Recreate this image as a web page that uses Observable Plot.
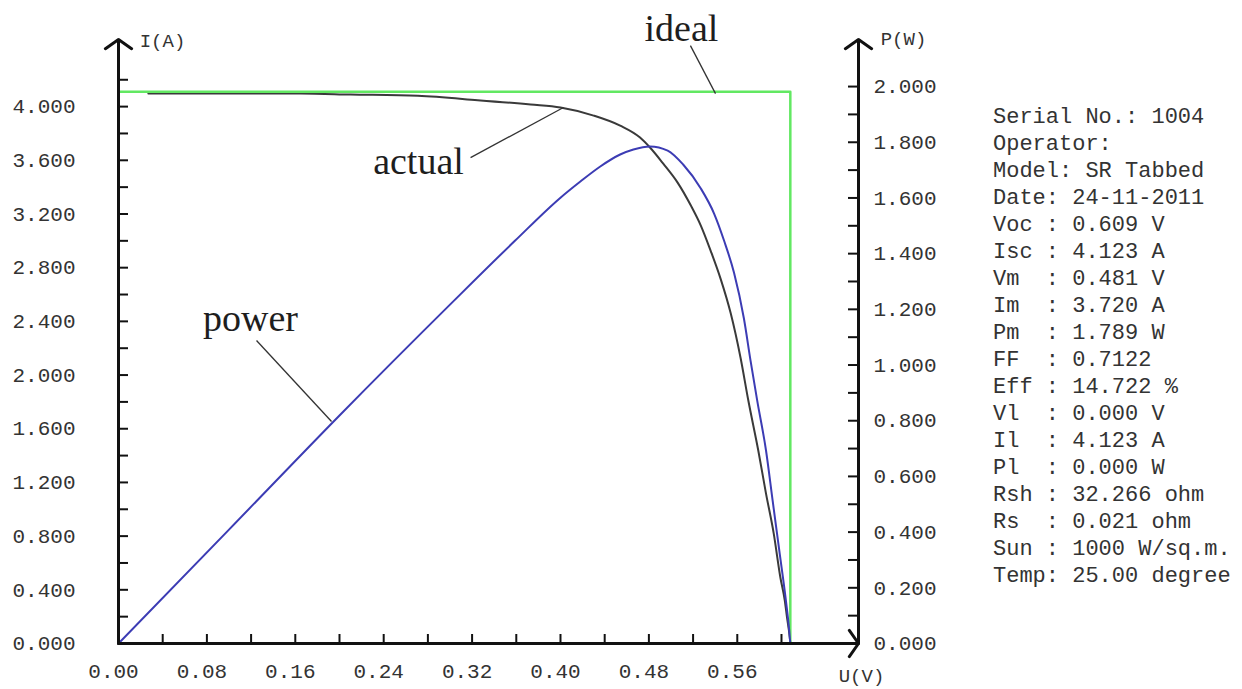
<!DOCTYPE html>
<html>
<head>
<meta charset="utf-8">
<script src="https://cdn.jsdelivr.net/npm/d3@7"></script>
<script src="https://cdn.jsdelivr.net/npm/@observablehq/plot@0.6"></script>
<style>
  html, body { margin: 0; padding: 0; background: #fff; }
  #wrap { position: relative; width: 1242px; height: 689px; overflow: hidden; }
  #panel { position: absolute; left: 993px; top: 104px; font-family: "Liberation Mono", "DejaVu Sans Mono", monospace;
           font-size: 22px; line-height: 27px; color: #333; white-space: pre; }
</style>
</head>
<body>
<div id="wrap"><div id="chart"></div><div id="panel"></div></div>
<script>
// ---- data ----
// actual I-V curve (U in V, I in A)
const uActual = [0.027, 0.165, 0.210, 0.271, 0.325, 0.373, 0.400, 0.430, 0.454, 0.472, 0.481, 0.493, 0.506, 0.518, 0.527, 0.536, 0.545, 0.554, 0.563, 0.570, 0.579, 0.586, 0.593, 0.599, 0.603, 0.605, 0.6075, 0.608];
const iActual = [4.097, 4.097, 4.090, 4.080, 4.048, 4.015, 3.993, 3.933, 3.858, 3.769, 3.695, 3.575, 3.434, 3.263, 3.114, 2.924, 2.715, 2.462, 2.127, 1.810, 1.438, 1.117, 0.819, 0.492, 0.320, 0.194, 0.045, 0.0];
// power curve (U in V, P in W)
const uPower = [0, 0.100, 0.200, 0.300, 0.359, 0.400, 0.418, 0.436, 0.454, 0.466, 0.481, 0.497, 0.511, 0.527, 0.539, 0.548, 0.557, 0.566, 0.572, 0.578, 0.586, 0.592, 0.598, 0.604, 0.607, 0.608];
const pPower = [0, 0.409, 0.819, 1.217, 1.447, 1.601, 1.659, 1.713, 1.756, 1.774, 1.785, 1.770, 1.720, 1.634, 1.544, 1.447, 1.332, 1.167, 1.016, 0.873, 0.693, 0.513, 0.334, 0.154, 0.047, 0];
// ideal rectangle (U, I)
const uIdeal = [0, 0.608, 0.608];
const iIdeal = [4.11, 4.11, 0];

// axes ticks
const uLabelTicks = [0, 0.08, 0.16, 0.24, 0.32, 0.40, 0.48, 0.56];
const uMinorTicks = [0.04, 0.08, 0.12, 0.16, 0.20, 0.24, 0.28, 0.32, 0.36, 0.40, 0.44, 0.48, 0.52, 0.56, 0.60];
const iLabelTicks = [0, 0.4, 0.8, 1.2, 1.6, 2.0, 2.4, 2.8, 3.2, 3.6, 4.0];
const iMinorTicks = [0.2, 0.4, 0.6, 0.8, 1.0, 1.2, 1.4, 1.6, 1.8, 2.0, 2.2, 2.4, 2.6, 2.8, 3.0, 3.2, 3.4, 3.6, 3.8, 4.0, 4.2];
const pLabelTicks = [0, 0.2, 0.4, 0.6, 0.8, 1.0, 1.2, 1.4, 1.6, 1.8, 2.0];
const pMinorTicks = [0.1, 0.2, 0.3, 0.4, 0.5, 0.6, 0.7, 0.8, 0.9, 1.0, 1.1, 1.2, 1.3, 1.4, 1.5, 1.6, 1.7, 1.8, 1.9, 2.0];

// annotations (label position and pointer, in U / I units)
const annText = ["ideal", "actual", "power"];
const annU = [0.5095, 0.2715, 0.1195];
const annI = [4.581, 3.590, 2.421];
const annFromU = [0.5176, 0.3186, 0.1249];
const annFromI = [4.454, 3.620, 2.257];
const annToU = [0.5403, 0.4027, 0.1928];
const annToI = [4.097, 3.993, 1.654];

// info panel
const infoLines = [
  "Serial No.: 1004", "Operator:", "Model: SR Tabbed", "Date: 24-11-2011",
  "Voc : 0.609 V", "Isc : 4.123 A", "Vm  : 0.481 V", "Im  : 3.720 A", "Pm  : 1.789 W",
  "FF  : 0.7122", "Eff : 14.722 %", "Vl  : 0.000 V", "Il  : 4.123 A", "Pl  : 0.000 W",
  "Rsh : 32.266 ohm", "Rs  : 0.021 ohm", "Sun : 1000 W/sq.m.", "Temp: 25.00 degree"
];

// ---- scales ----
const xMax = 0.6697;   // U domain top
const yMax = 4.5;      // I domain top
const pMax = 2.169;    // P domain top (right axis)
const pToI = yMax / pMax;

const actual = uActual.map((u, k) => ({u, i: iActual[k]}));
const power = uPower.map((u, k) => ({u, i: pPower[k] * pToI}));
const ideal = uIdeal.map((u, k) => ({u, i: iIdeal[k]}));
const ann = annText.map((t, k) => ({t, u: annU[k], i: annI[k], u1: annFromU[k], i1: annFromI[k], u2: annToU[k], i2: annToI[k]}));
const axesLines = [
  {x1: 0, y1: 0, x2: 0, y2: yMax},
  {x1: 0, y1: 0, x2: xMax, y2: 0},
  {x1: xMax, y1: 0, x2: xMax, y2: yMax}
];

const mono = "Liberation Mono, DejaVu Sans Mono, monospace";
const W = 1242, H = 689, mL = 118, mR = 384, mT = 39, mB = 46;
const fw = W - mL - mR, fh = H - mT - mB;

const chart = Plot.plot({
  width: W, height: H,
  marginLeft: mL, marginRight: mR, marginTop: mT, marginBottom: mB,
  x: {domain: [0, xMax]},
  y: {domain: [0, yMax]},
  style: {background: "white", color: "#333", fontFamily: mono, overflow: "visible"},
  marks: [
    // curves
    Plot.line(actual, {x: "u", y: "i", stroke: "#3a3a3a", strokeWidth: 2, curve: "monotone-x"}),
    Plot.line(ideal, {x: "u", y: "i", stroke: "#62e862", strokeWidth: 2.5}),
    Plot.line(power, {x: "u", y: "i", stroke: "#3c3cb4", strokeWidth: 2, curve: "monotone-x"}),
    // annotations
    Plot.link(ann, {x1: "u1", y1: "i1", x2: "u2", y2: "i2", stroke: "#333", strokeWidth: 1.3}),
    Plot.text(ann, {x: "u", y: "i", text: "t", fontFamily: "Liberation Serif, serif", fontSize: 38, fill: "#1e1e1e"}),
    // axis lines with arrowheads
    Plot.arrow(axesLines, {x1: "x1", y1: "y1", x2: "x2", y2: "y2", stroke: "#111", strokeWidth: 3, headLength: 8, headAngle: 110}),
    // inward ticks
    Plot.ruleY(iMinorTicks, {y: d => d, insetRight: fw - 10, stroke: "#111", strokeWidth: 2}),
    Plot.ruleY(pMinorTicks, {y: d => d * pToI, insetLeft: fw - 10, stroke: "#111", strokeWidth: 2}),
    Plot.ruleX(uMinorTicks, {x: d => d, insetTop: fh - 9, stroke: "#111", strokeWidth: 2}),
    // tick labels
    Plot.axisY({ticks: iLabelTicks, anchor: "left", tickSize: 0, tickPadding: 43, label: null,
      tickFormat: d => d.toFixed(3), fontSize: 21, fontFamily: mono}),
    Plot.axisY({ticks: pLabelTicks.map(p => p * pToI), anchor: "right", tickSize: 0, tickPadding: 15, label: null,
      tickFormat: v => (v / pToI).toFixed(3), fontSize: 21, fontFamily: mono}),
    Plot.axisX({ticks: uLabelTicks, anchor: "bottom", tickSize: 0, tickPadding: 20, label: null, dx: -5,
      tickFormat: d => d.toFixed(2), fontSize: 21, fontFamily: mono}),
    // axis titles
    Plot.text(["I(A)"], {frameAnchor: "top-left", textAnchor: "middle", lineAnchor: "middle", dx: 44, dy: 1, fontSize: 19, fontFamily: mono, fill: "#333"}),
    Plot.text(["P(W)"], {frameAnchor: "top-right", textAnchor: "middle", lineAnchor: "middle", dx: 45, dy: -1, fontSize: 19, fontFamily: mono, fill: "#333"}),
    Plot.text(["U(V)"], {frameAnchor: "bottom-right", textAnchor: "middle", lineAnchor: "middle", dx: 3, dy: 32, fontSize: 19, fontFamily: mono, fill: "#333"})
  ]
});
document.getElementById("chart").appendChild(chart);
document.getElementById("panel").textContent = infoLines.join("\n");
</script>
</body>
</html>
